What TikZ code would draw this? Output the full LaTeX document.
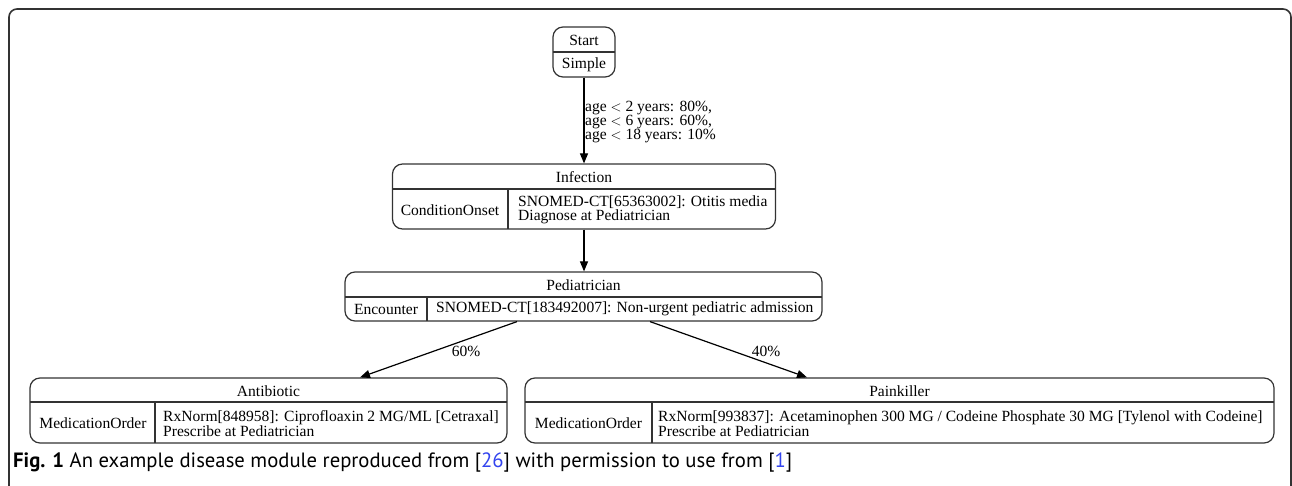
\documentclass[tikz,border=0pt]{standalone}
\usepackage{fontspec}
\setmainfont{Liberation Serif}
\newfontfamily\capfont{PT Sans}
\usetikzlibrary{arrows.meta}
\definecolor{lc}{HTML}{333333}
\definecolor{refblue}{HTML}{3344EE}
\tikzset{
  mbox/.style={draw=lc, line width=1.2pt, rounded corners=10pt, rectangle, inner sep=0pt},
  txt/.style={inner sep=0pt, font=\fontsize{15.55}{14}\selectfont, text=black},
  ltxt/.style={txt, align=left, anchor=west},
  divl/.style={draw=lc, line width=1.2pt},
  arr/.style={draw=black, line width=1.2pt, -{Triangle[length=10pt,width=8pt]}},
}
\begin{document}
\begin{tikzpicture}[x=1pt,y=-1pt]
\useasboundingbox (0,0) rectangle (1292,486);
\begin{scope}
\clip (0,0) rectangle (1292,486);
\draw[lc, line width=1.6pt, rounded corners=8pt] (9,500) -- (9,9) -- (1291,9) -- (1291,500);
\end{scope}

% Start
\node[mbox, minimum width=62pt, minimum height=50pt] (start) at (584,52) {};
\draw[divl] (553,52) -- (615,52);
\node[txt] (startt) at (584,40) {Start};
\node[txt] (starts) at (584,64.5) {Simple};

% Infection
\node[mbox, minimum width=383pt, minimum height=65pt] (inf) at (584,196.5) {};
\draw[divl] (392.5,189) -- (775.5,189);
\draw[divl] (508,189) -- (508,229);
\node[txt] (inft) at (584,177) {Infection};
\node[txt] (infk) at (450,210) {ConditionOnset};
\node[ltxt] (infv) at (518,210) {SNOMED-CT[65363002]: Otitis media\\Diagnose at Pediatrician};

% Pediatrician
\node[mbox, minimum width=477pt, minimum height=49pt] (ped) at (583.5,296.5) {};
\draw[divl] (345,297) -- (822,297);
\draw[divl] (427,297) -- (427,321);
\node[txt] (pedt) at (583.5,285) {Pediatrician};
\node[txt] (pedk) at (386,309) {Encounter};
\node[ltxt] (pedv) at (436,309) {SNOMED-CT[183492007]: Non-urgent pediatric admission};

% Antibiotic
\node[mbox, minimum width=477pt, minimum height=65pt] (anti) at (268.5,410.5) {};
\draw[divl] (30,402) -- (507,402);
\draw[divl] (155,402) -- (155,443);
\node[txt] (antit) at (268.5,391) {Antibiotic};
\node[txt] (antik) at (93,423.5) {MedicationOrder};
\node[ltxt] (antiv) at (163,423.5) {RxNorm[848958]: Ciprofloaxin 2 MG/ML [Cetraxal]\\Prescribe at Pediatrician};

% Painkiller
\node[mbox, minimum width=749pt, minimum height=65pt] (pain) at (899.5,410.5) {};
\draw[divl] (525,402) -- (1274,402);
\draw[divl] (652,402) -- (652,443);
\node[txt] (paint) at (899.5,391) {Painkiller};
\node[txt] (paink) at (588.5,423.5) {MedicationOrder};
\node[ltxt] (painv) at (658,423.5) {RxNorm[993837]: Acetaminophen 300 MG / Codeine Phosphate 30 MG [Tylenol with Codeine]\\Prescribe at Pediatrician};

% Connectors
\draw[arr] (start.south) -- (inf.north);
\node[ltxt] (lab1) at (585,122) {age $<$ 2 years: 80\%,\\age $<$ 6 years: 60\%,\\age $<$ 18 years: 10\%};
\draw[arr] (inf.south) -- (inf.south |- ped.north);
\draw[arr] ([xshift=-66.5pt]ped.south) -- ([xshift=91.5pt]anti.north);
\node[txt] (lab2) at (466,351) {60\%};
\draw[arr] ([xshift=66.5pt]ped.south) -- ([xshift=-92.5pt]pain.north);
\node[txt] (lab3) at (766,351) {40\%};

% Caption
\node[inner sep=0pt, anchor=west] (cap) at (13,463) {\resizebox{779pt}{!}{\capfont\fontsize{17}{17}\selectfont\textbf{Fig. 1} An example disease module reproduced from [\textcolor{refblue}{26}] with permission to use from [\textcolor{refblue}{1}]}};
\end{tikzpicture}
\end{document}
